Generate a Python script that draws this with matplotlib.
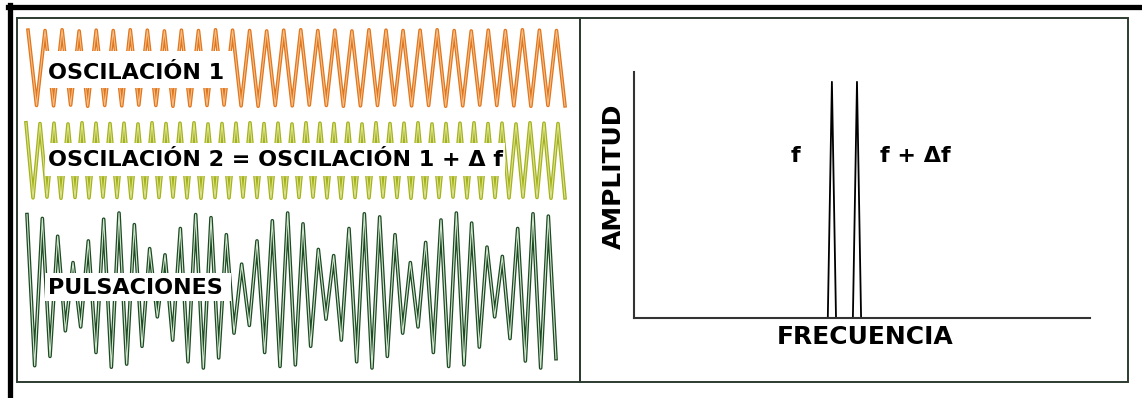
import numpy as np
import matplotlib
matplotlib.use("Agg")
import matplotlib.pyplot as plt
from matplotlib.patches import Rectangle
from matplotlib.lines import Line2D

# picos y valles de cada oscilacion (amplitud relativa)
osc1_picos = [0.97, 0.96, 0.98, 0.95, 0.97, 0.96, 0.98, 0.97, 0.95, 0.97, 0.96,
              0.98, 0.97, 0.96, 0.95, 0.97, 0.98, 0.96, 0.97, 0.95, 0.98, 0.97,
              0.96, 0.97, 0.98, 0.96, 0.95, 0.97, 0.96, 0.98, 0.97, 0.96]
osc1_valles = [-0.96, -0.97, -0.95, -0.98, -0.96, -0.97, -0.95, -0.96, -0.98,
               -0.97, -0.96, -0.95, -0.97, -0.98, -0.96, -0.97, -0.95, -0.96,
               -0.98, -0.97, -0.96, -0.95, -0.97, -0.96, -0.98, -0.97, -0.95,
               -0.96, -0.97, -0.98, -0.96, -0.97]

osc2_picos = [0.98, 0.96, 0.97, 0.95, 0.98, 0.97, 0.96, 0.97, 0.95, 0.98, 0.96,
              0.97, 0.98, 0.95, 0.96, 0.97, 0.98, 0.96, 0.97, 0.95, 0.98, 0.97,
              0.96, 0.97, 0.95, 0.98, 0.96, 0.97, 0.98, 0.95, 0.96, 0.97, 0.98,
              0.96, 0.97, 0.95, 0.98, 0.97, 0.96]
osc2_valles = [-0.97, -0.95, -0.98, -0.96, -0.97, -0.95, -0.96, -0.98, -0.97,
               -0.96, -0.95, -0.97, -0.98, -0.96, -0.97, -0.95, -0.96, -0.98,
               -0.97, -0.96, -0.95, -0.97, -0.98, -0.96, -0.97, -0.95, -0.96,
               -0.98, -0.97, -0.96, -0.95, -0.97, -0.98, -0.96, -0.97, -0.95,
               -0.96, -0.98, -0.97]

puls_picos = [0.98, 0.93, 0.70, 0.36, 0.64, 0.92, 1.00, 0.85, 0.54, 0.46, 0.80,
              0.98, 0.94, 0.72, 0.34, 0.64, 0.90, 1.00, 0.86, 0.53, 0.45, 0.80,
              0.99, 0.95, 0.72, 0.36, 0.62, 0.91, 1.00, 0.87, 0.56, 0.44, 0.80,
              0.99, 0.96]
puls_valles = [-0.97, -0.85, -0.52, -0.47, -0.80, -0.99, -0.95, -0.72, -0.34,
               -0.64, -0.92, -1.00, -0.87, -0.55, -0.45, -0.80, -0.98, -0.96,
               -0.72, -0.37, -0.64, -0.92, -1.00, -0.85, -0.55, -0.47, -0.80,
               -0.98, -0.96, -0.73, -0.34, -0.62, -0.91, -1.00, -0.88]

# espectro
frecuencias = [43.4, 48.9]
amplitudes = [0.96, 0.96]
ancho = 0.9

W, H = 1142, 398
fig = plt.figure(figsize=(W / 100, H / 100), dpi=100)
fig.patch.set_facecolor("white")


def px_axes(l, t, r, b):
    return fig.add_axes([l / W, 1 - b / H, (r - l) / W, (b - t) / H])


def fx(x):
    return x / W


def fy(y):
    return 1 - y / H


def onda(picos, valles, rect, c_borde, c_centro):
    ax = px_axes(*rect)
    v = np.empty(len(picos) + len(valles))
    v[0::2] = picos
    v[1::2] = valles
    i = np.arange(len(v))
    ax.plot(i, v, color=c_borde, lw=2.6, clip_on=False)
    ax.plot(i, v, color=c_centro, lw=0.8, clip_on=False)
    ax.set_xlim(0, len(v) - 1)
    ax.set_ylim(-1, 1)
    ax.axis("off")
    return ax


onda(osc1_picos, osc1_valles, (28, 29, 565, 107), "#E0761E", "#F6BE86")
onda(osc2_picos, osc2_valles, (26, 122, 565, 199), "#A4B21E", "#DCE28E")
onda(puls_picos, puls_valles, (27, 213, 556, 368), "#1C4A22", "#D3E6D0")

# bandas blancas detras de las etiquetas
for (l, t, r, b) in [(45, 51, 233, 88), (45, 143, 505, 176), (45, 273, 231, 301)]:
    fig.add_artist(Rectangle((fx(l), fy(b)), (r - l) / W, (b - t) / H,
                             transform=fig.transFigure, facecolor="white",
                             edgecolor="none", zorder=2))

lbl = dict(fontsize=16, fontweight="bold", color="black", va="center",
           ha="left", zorder=3, family="DejaVu Sans")
fig.text(fx(48), fy(73), "OSCILACIÓN 1", **lbl)
fig.text(fx(48), fy(160), "OSCILACIÓN 2 = OSCILACIÓN 1 + Δ f", **lbl)
fig.text(fx(48), fy(288), "PULSACIONES", **lbl)

# espectro
ax = px_axes(634, 72, 1090, 318)
for f, a in zip(frecuencias, amplitudes):
    ax.plot([f - ancho, f, f + ancho], [0, a, 0], color="black", lw=1.3)
ax.set_xlim(0, 100)
ax.set_ylim(0, 1)
ax.set_xticks([])
ax.set_yticks([])
for s in ["top", "right"]:
    ax.spines[s].set_visible(False)
for s in ["left", "bottom"]:
    ax.spines[s].set_color("#333333")
    ax.spines[s].set_linewidth(1.5)
ax.patch.set_alpha(0)
ax.text(35.4, 0.66, "f", fontsize=16, fontweight="bold", ha="center", va="center")
ax.text(53.9, 0.66, "f + Δf", fontsize=16, fontweight="bold", ha="left", va="center")

fig.text(fx(865), fy(337), "FRECUENCIA", fontsize=18, fontweight="bold",
         ha="center", va="center")
fig.text(fx(614), fy(176), "AMPLITUD", fontsize=18, fontweight="bold",
         ha="center", va="center", rotation=90)

# marcos
for (l, t, r, b) in [(17, 18, 580, 382), (580, 18, 1128, 382)]:
    fig.add_artist(Rectangle((fx(l), fy(b)), (r - l) / W, (b - t) / H,
                             transform=fig.transFigure, facecolor="none",
                             edgecolor="#2E3B30", lw=1.4, zorder=4))
fig.add_artist(Line2D([fx(8), fx(1142)], [fy(7), fy(7)], color="black", lw=3.8,
                      transform=fig.transFigure))
fig.add_artist(Line2D([fx(10), fx(10)], [fy(5), fy(398)], color="black", lw=3.8,
                      transform=fig.transFigure))

fig.savefig("out.png", dpi=100)
